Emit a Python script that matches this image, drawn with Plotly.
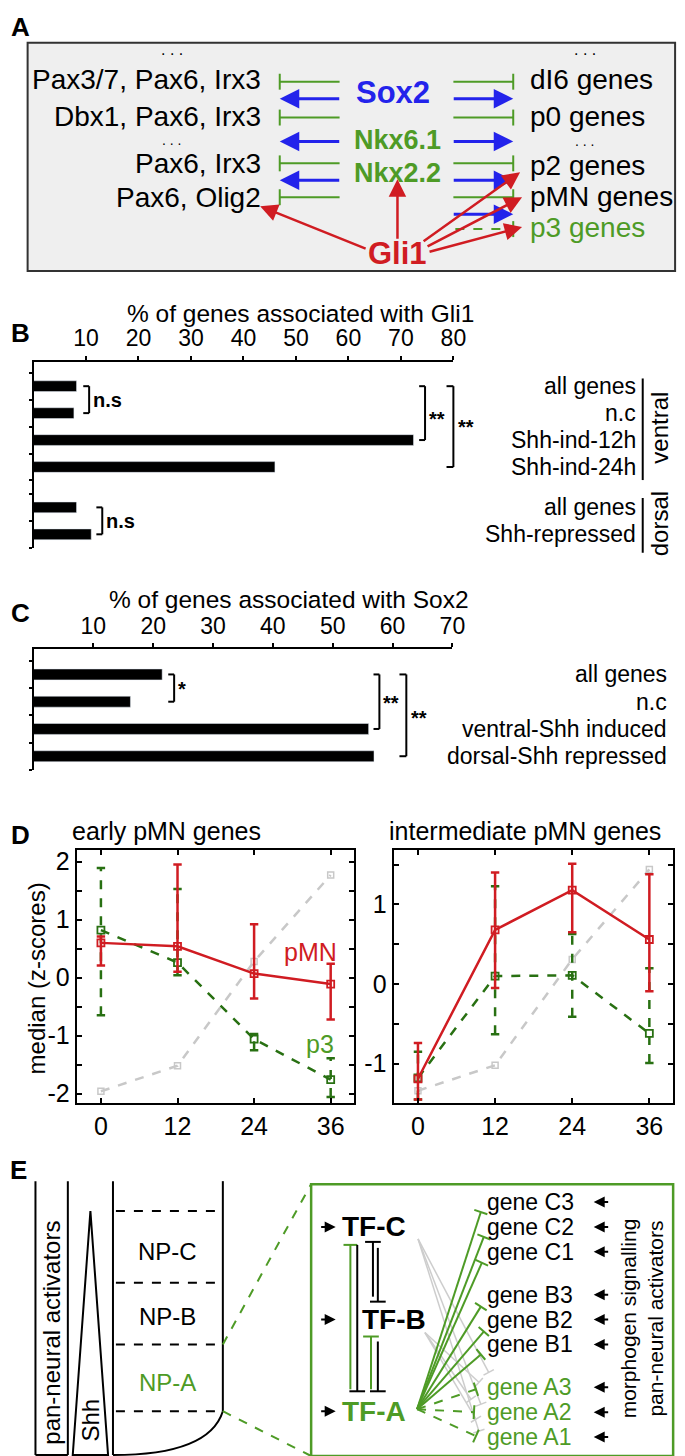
import math
import plotly.graph_objects as go

W, H = 685, 1456
FONT = "Liberation Sans, Arial, sans-serif"

# ---------------- data ----------------
b_categories = ["all genes", "n.c", "Shh-ind-12h", "Shh-ind-24h", "all genes", "Shh-repressed"]
b_positions = [1, 2, 3, 4, 5.5, 6.5]
b_values = [8.2, 7.7, 72.4, 46.0, 8.2, 11.0]
b_ticks = [10, 20, 30, 40, 50, 60, 70, 80]

c_categories = ["all genes", "n.c", "ventral-Shh induced", "dorsal-Shh repressed"]
c_positions = [1, 2, 3, 4]
c_values = [21.5, 16.2, 56.0, 56.9]
c_ticks = [10, 20, 30, 40, 50, 60, 70]

d_times = [0, 12, 24, 36]
early_pmn = [0.60, 0.54, 0.07, -0.11]
early_pmn_lo = [0.21, 0.10, -0.36, -0.72]
early_pmn_hi = [0.71, 1.95, 0.92, 0.24]
early_p3 = [0.82, 0.26, -1.06, -1.76]
early_p3_lo = [-0.65, 0.04, -1.25, -2.06]
early_p3_hi = [1.89, 1.53, -0.97, -1.39]
early_ref = [-1.96, -1.52, 0.28, 1.77]

inter_pmn = [-1.19, 0.68, 1.18, 0.56]
inter_pmn_lo = [-1.45, -0.05, 0.65, -0.09]
inter_pmn_hi = [-0.74, 1.40, 1.51, 1.38]
inter_p3 = [-1.18, 0.10, 0.11, -0.62]
inter_p3_lo = [-1.45, -0.63, -0.41, -0.99]
inter_p3_hi = [-0.85, 1.23, 0.63, 0.20]
inter_ref = [-1.34, -1.02, 0.31, 1.44]

# ---------------- colours ----------------
GREEN = "rgb(78,155,38)"
DGREEN = "rgb(40,112,18)"
BLUE = "rgb(35,35,235)"
RED = "rgb(208,28,34)"
GRAY = "rgb(200,200,200)"
LGRAY = "rgb(205,205,205)"


def px(x):
    return x / W


def py(y):
    return 1 - y / H


shapes = []
annotations = []


def txt(x, y, s, size=24, color="black", xanchor="center", bold=False, angle=0, yref=None, yval=None):
    annotations.append(dict(
        x=px(x), y=(yval if yref else py(y)), xref="paper", yref=(yref or "paper"),
        text=("<b>%s</b>" % s if bold else s), showarrow=False,
        font=dict(size=size, color=color, family=FONT), borderpad=0,
        xanchor=xanchor, yanchor="middle", textangle=angle))


def line(x0, y0, x1, y1, color="black", width=2, dash=None):
    ln = dict(color=color, width=width)
    if dash:
        ln["dash"] = dash
    shapes.append(dict(type="line", xref="paper", yref="paper",
                       x0=px(x0), y0=py(y0), x1=px(x1), y1=py(y1), line=ln))


def arrow(tx, ty, hx, hy, color="black", width=2.5, size=1.3):
    annotations.append(dict(
        x=px(hx), y=py(hy), xref="paper", yref="paper", ax=tx - hx, ay=ty - hy,
        axref="pixel", ayref="pixel", text="", showarrow=True, arrowhead=2,
        arrowsize=size, arrowwidth=width, arrowcolor=color, standoff=0))


def inhibit(tx, ty, hx, hy, color="black", width=2, dash=None, half=7):
    line(tx, ty, hx, hy, color, width, dash)
    dx, dy = hx - tx, hy - ty
    n = math.hypot(dx, dy)
    nx, ny = -dy / n, dx / n
    line(hx - nx * half, hy - ny * half, hx + nx * half, hy + ny * half, color, width)


fig = go.Figure()

# ================= Panel A =================
txt(13, 17, "A", 26, bold=True)
shapes.append(dict(type="rect", xref="paper", yref="paper", x0=px(20), y0=py(33), x1=px(680), y1=py(262),
                   fillcolor="rgb(239,239,239)", line=dict(color="rgb(50,50,50)", width=2), layer="below"))
left_rows = [(70, "Pax3/7, Pax6, Irx3"), (107, "Dbx1, Pax6, Irx3"), (154, "Pax6, Irx3"), (188, "Pax6, Olig2")]
for y, s in left_rows:
    txt(259, y, s, 28, xanchor="right")
txt(167, 40, ". . .", 16)
txt(167, 130.5, ". . .", 14)
txt(588, 40, ". . .", 16)
txt(588, 131.5, ". . .", 14)
right_rows = [(70, "dI6 genes"), (107, "p0 genes"), (156, "p2 genes"), (187, "pMN genes")]
for y, s in right_rows:
    txt(531, y, s, 28, xanchor="left")
txt(531, 218, "p3 genes", 28, color=GREEN, xanchor="left")

for y in [72, 108, 154, 188]:
    inhibit(338, y, 277, y, GREEN, 2, half=8)
    inhibit(454, y, 515, y, GREEN, 2, half=8)
for y in [89, 132, 171]:
    arrow(338, y, 277, y, BLUE, 3, 1.3)
for y in [89, 132, 171, 205]:
    arrow(454, y, 515, y, BLUE, 3, 1.3)
inhibit(456, 220, 515, 220, GREEN, 2, dash="dash", half=8)

txt(392, 83, "Sox2", 31, color=BLUE, bold=True)
txt(397, 131, "Nkx6.1", 27, color=GREEN, bold=True)
txt(397, 164, "Nkx2.2", 27, color=GREEN, bold=True)
txt(397, 245, "Gli1", 31, color=RED, bold=True)
arrow(364, 240, 257, 197, RED, 2.5, 1.4)
arrow(397, 231, 397, 170, RED, 2.5, 1.4)
arrow(424, 233, 522, 163, RED, 2.5, 1.4)
arrow(428, 238, 524, 188, RED, 2.5, 1.4)
arrow(430, 243, 524, 218, RED, 2.5, 1.4)

# ================= Panel B =================
txt(13, 324, "B", 26, bold=True)
txt(298, 305, "% of genes associated with Gli1", 24.5)
fig.add_trace(go.Bar(x=b_values, y=b_positions, orientation="h", marker_color="black",
                     width=0.4, xaxis="x", yaxis="y", hoverinfo="skip"))
for pos, lab in zip(b_positions, b_categories):
    txt(641, 0, lab, 23, xanchor="right", yref="y", yval=pos)
line(647, 370, 647, 472, "black", 2)
line(647, 490, 647, 545, "black", 2)
txt(664, 419, "ventral", 24, angle=-90)
txt(664, 516, "dorsal", 24, angle=-90)

B_X0, B_X1, B_R = 26, 454, 80.0
B_Y0, B_Y1, B_YR = 353, 540, (0.085, 7.0)


def bx(v):
    return B_X0 + (B_X1 - B_X0) * v / B_R


def by(v):
    return B_Y0 + (B_Y1 - B_Y0) * (v - B_YR[0]) / (B_YR[1] - B_YR[0])


def bracket(xv, y0, y1, tick, xmap, ymap, label, lx, ly, size=20):
    x = xmap(xv)
    line(x - tick, ymap(y0), x, ymap(y0))
    line(x, ymap(y0), x, ymap(y1))
    line(x - tick, ymap(y1), x, ymap(y1))
    txt(x + lx, ymap(ly), label, size, xanchor="left", bold=True)


bracket(10.6, 1, 2, 6, bx, by, "n.s", 3, 1.5)
bracket(74.6, 1, 3, 6, bx, by, "**", 3, 2.2)
bracket(80.0, 1, 4, 7, bx, by, "**", 4, 2.5)
bracket(13.1, 5.5, 6.5, 6, bx, by, "n.s", 3, 6.0)

# ================= Panel C =================
txt(13, 605, "C", 26, bold=True)
txt(286, 592, "% of genes associated with Sox2", 24.5)
fig.add_trace(go.Bar(x=c_values, y=c_positions, orientation="h", marker_color="black",
                     width=0.4, xaxis="x2", yaxis="y2", hoverinfo="skip"))
for pos, lab in zip(c_positions, c_categories):
    txt(673, 0, lab, 23, xanchor="right", yref="y2", yval=pos)

C_X0, C_X1, C_R = 26, 453, 70.0
C_Y0, C_Y1, C_YR = 642, 763, (0.08, 4.5)


def cx(v):
    return C_X0 + (C_X1 - C_X0) * v / C_R


def cy(v):
    return C_Y0 + (C_Y1 - C_Y0) * (v - C_YR[0]) / (C_YR[1] - C_YR[0])


bracket(23.5, 1, 2, 6, cx, cy, "*", 3, 1.55)
bracket(57.8, 1, 3, 6, cx, cy, "**", 3, 2.05)
bracket(62.3, 1, 4, 7, cx, cy, "**", 4, 2.6)

# ================= Panel D =================
txt(13, 828, "D", 26, bold=True)
txt(162, 824, "early pMN genes", 25)
txt(527, 824, "intermediate pMN genes", 25)
txt(30, 972, "median (z-scores)", 24, angle=-90)


def err_segments(xs, lo, hi):
    sx, sy = [], []
    for x, a, b in zip(xs, lo, hi):
        sx += [x, x, None]
        sy += [a, b, None]
    return sx, sy


def add_series(xa, ya, mid, lo, hi, color, dash):
    sx, sy = err_segments(d_times, lo, hi)
    fig.add_trace(go.Scatter(x=sx, y=sy, mode="lines", line=dict(color=color, width=2.5, dash=dash),
                             xaxis=xa, yaxis=ya, hoverinfo="skip"))
    fig.add_trace(go.Scatter(x=d_times + d_times, y=lo + hi, mode="markers",
                             marker=dict(symbol="line-ew-open", size=6, color=color,
                                         line=dict(color=color, width=2.5)),
                             xaxis=xa, yaxis=ya, hoverinfo="skip"))
    fig.add_trace(go.Scatter(x=d_times, y=mid, mode="lines+markers",
                             line=dict(color=color, width=2.5, dash=dash),
                             marker=dict(symbol="square-open", size=7, color=color, line=dict(color=color, width=1.8)),
                             xaxis=xa, yaxis=ya, hoverinfo="skip"))


for xa, ya, ref in [("x3", "y3", early_ref), ("x4", "y4", inter_ref)]:
    fig.add_trace(go.Scatter(x=d_times, y=ref, mode="lines+markers",
                             line=dict(color=GRAY, width=2.5, dash="dash"),
                             marker=dict(symbol="square-open", size=6, color=GRAY, line=dict(color=GRAY, width=1.5)),
                             xaxis=xa, yaxis=ya, hoverinfo="skip"))

add_series("x3", "y3", early_p3, early_p3_lo, early_p3_hi, DGREEN, "dash")
add_series("x3", "y3", early_pmn, early_pmn_lo, early_pmn_hi, RED, "solid")
add_series("x4", "y4", inter_p3, inter_p3_lo, inter_p3_hi, DGREEN, "dash")
add_series("x4", "y4", inter_pmn, inter_pmn_lo, inter_pmn_hi, RED, "solid")

annotations.append(dict(x=32.8, y=0.45, xref="x3", yref="y3", text="pMN", showarrow=False,
                        font=dict(size=25, color=RED, family=FONT)))
annotations.append(dict(x=34.4, y=-1.15, xref="x3", yref="y3", text="p3", showarrow=False,
                        font=dict(size=25, color=GREEN, family=FONT)))

# ================= Panel E =================
txt(11, 1165, "E", 26, bold=True)
line(28, 1176, 28, 1451)
line(61, 1176, 61, 1451)
line(28, 1451, 61, 1451)
txt(44, 1328, "pan-neural activators", 24, angle=-90)
shapes.append(dict(type="path", xref="paper", yref="paper",
                   path="M %f,%f L %f,%f L %f,%f Z" % (px(66), py(1451), px(84), py(1206), px(102), py(1451)),
                   line=dict(color="black", width=2)))
txt(84, 1416, "Shh", 24, angle=-90)
line(107, 1176, 107, 1451)
line(219, 1176, 219, 1407)
shapes.append(dict(type="path", xref="paper", yref="paper",
                   path="M %f,%f Q %f,%f %f,%f" % (px(107), py(1451), px(205), py(1451), px(219), py(1407)),
                   line=dict(color="black", width=2)))
for y in [1206, 1278, 1340, 1407]:
    line(110, y, 216, y, "black", 2, "dash")
txt(163, 1247, "NP-C", 24)
txt(163, 1312, "NP-B", 24)
txt(163, 1378, "NP-A", 24, color=GREEN)
line(219, 1340, 309, 1179, GREEN, 2, "dash")
line(219, 1407, 309, 1452, GREEN, 2, "dash")
shapes.append(dict(type="rect", xref="paper", yref="paper", x0=px(309), y0=py(1179), x1=px(678), y1=py(1452),
                   line=dict(color=GREEN, width=2.5)))

txt(373, 1222, "TF-C", 28, bold=True)
txt(393, 1315, "TF-B", 28, bold=True)
txt(373, 1407, "TF-A", 28, color=GREEN, bold=True)
for y in [1222, 1315, 1407]:
    arrow(318, y, 334, y, "black", 2, 1.1)

# TF cross-repression
inhibit(349, 1385, 349, 1240, GREEN, 2, half=7)
inhibit(356, 1240, 356, 1387, "black", 2, half=8)
inhibit(372, 1292, 372, 1237, "black", 2, half=8)
inhibit(377, 1243, 377, 1297, "black", 2, half=8)
inhibit(370, 1385, 370, 1332, GREEN, 2, half=8)
inhibit(377, 1337, 377, 1387, "black", 2, half=8)

# gray repression lines
for (ox, oy) in [(418, 1234)]:
    for ex, ey in [(490, 1368), (482, 1400), (480, 1427)]:
        inhibit(ox, oy, ex, ey, LGRAY, 1.5, half=6)
for (ox, oy) in [(425, 1328)]:
    for ex, ey in [(480, 1378), (472, 1395), (477, 1415)]:
        inhibit(ox, oy, ex, ey, LGRAY, 1.5, half=6)

genes = [(1197, "gene C3", "black"), (1222, "gene C2", "black"), (1247, "gene C1", "black"),
         (1290, "gene B3", "black"), (1315, "gene B2", "black"), (1340, "gene B1", "black"),
         (1383, "gene A3", GREEN), (1408, "gene A2", GREEN), (1433, "gene A1", GREEN)]
for y, s, c in genes:
    txt(487, y, s, 23, color=c, xanchor="left")
    arrow(613, y, 597, y, "black", 2, 1.1)

for ex, ey in [(482, 1207), (485, 1232), (483, 1258), (482, 1302), (485, 1327), (482, 1350)]:
    inhibit(417, 1405, ex, ey, GREEN, 2, half=7)
for ex, ey in [(477, 1385), (475, 1408), (477, 1432)]:
    inhibit(417, 1405, ex, ey, GREEN, 2, dash="dash", half=7)

txt(646, 1314, "morphogen signalling<br>pan-neural activators", 21, angle=-90)

# ---------------- axes ----------------
axis_common = dict(showline=True, linecolor="black", linewidth=2, showgrid=False, zeroline=False,
                   tickcolor="black", tickfont=dict(family=FONT, size=23, color="black"))

dom_x = lambda a, b: [a / W, b / W]
dom_y = lambda top, bot: [py(bot), py(top)]
dfont = dict(family=FONT, size=25, color="black")

fig.update_layout(
    width=W, height=H, margin=dict(l=0, r=0, t=0, b=0), autosize=False,
    paper_bgcolor="white", plot_bgcolor="rgba(0,0,0,0)", showlegend=False,
    font=dict(family=FONT, color="black"),
    xaxis=dict(axis_common, domain=dom_x(B_X0, B_X1), range=[0, B_R], side="top", anchor="y",
               tickvals=b_ticks, ticks="outside", ticklen=4, tickwidth=1.5),
    yaxis=dict(axis_common, domain=dom_y(B_Y0, B_Y1), range=[B_YR[1], B_YR[0]], anchor="x",
               tickvals=[0.5, 1.5, 2.5, 3.5, 4.5, 5, 6, 7], showticklabels=False,
               ticks="outside", ticklen=3, tickwidth=2),
    xaxis2=dict(axis_common, domain=dom_x(C_X0, C_X1), range=[0, C_R], side="top", anchor="y2",
                tickvals=c_ticks, ticks="outside", ticklen=4, tickwidth=1.5),
    yaxis2=dict(axis_common, domain=dom_y(C_Y0, C_Y1), range=[C_YR[1], C_YR[0]], anchor="x2",
                tickvals=[0.5, 1.5, 2.5, 3.5, 4.5], showticklabels=False,
                ticks="outside", ticklen=3, tickwidth=2),
    xaxis3=dict(axis_common, domain=dom_x(70, 353), range=[-3.8, 39.7], anchor="y3", mirror="ticks",
                tickvals=d_times, ticktext=[str(t) for t in d_times], ticks="inside", ticklen=5, tickwidth=1.5,
                tickfont=dfont),
    yaxis3=dict(axis_common, domain=dom_y(843, 1098), range=[-2.17, 2.21], anchor="x3", mirror="ticks",
                tickvals=[-2, -1.5, -1, -0.5, 0, 0.5, 1, 1.5, 2],
                ticktext=["-2", "", "-1", "", "0", "", "1", "", "2"],
                ticks="inside", ticklen=5, tickwidth=1.5, tickfont=dfont),
    xaxis4=dict(axis_common, domain=dom_x(393, 678), range=[-3.8, 39.7], anchor="y4", mirror="ticks",
                tickvals=d_times, ticktext=[str(t) for t in d_times], ticks="inside", ticklen=5, tickwidth=1.5,
                tickfont=dfont),
    yaxis4=dict(axis_common, domain=dom_y(843, 1098), range=[-1.5, 1.69], anchor="x4", mirror="ticks",
                tickvals=[-1.5, -1, -0.5, 0, 0.5, 1, 1.5],
                ticktext=["", "-1", "", "0", "", "1", ""],
                ticks="inside", ticklen=5, tickwidth=1.5, tickfont=dfont),
    shapes=shapes, annotations=annotations,
)

fig.write_html("out.html")
